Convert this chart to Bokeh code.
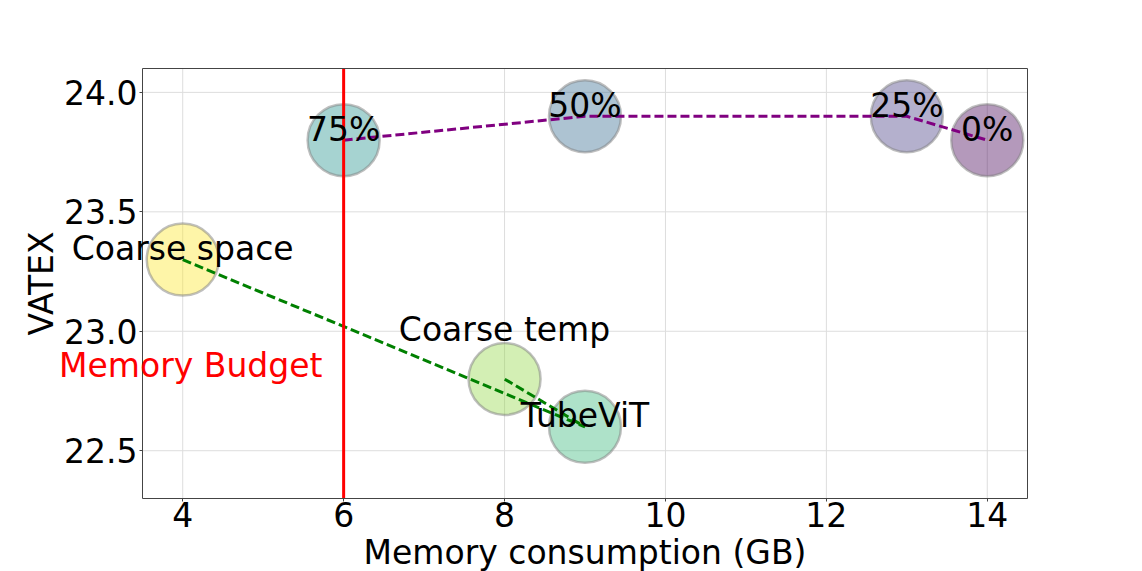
from bokeh.plotting import figure
from bokeh.models import Range1d, FixedTicker, ColumnDataSource, CustomJSTickFormatter
from bokeh.core.properties import value
from bokeh.embed import file_html
from bokeh.resources import INLINE

# Data
labels = ["0%", "25%", "50%", "75%", "TubeViT", "Coarse temp", "Coarse space"]
memory = [14, 13, 9, 6, 9, 8, 4]
vatex = [23.8, 23.9, 23.9, 23.8, 22.6, 22.8, 23.3]
colors = ["#440154", "#443983", "#31688e", "#21918c", "#35b779", "#90d743", "#fde725"]
label_y = [23.8, 23.9, 23.9, 23.8, 22.6, 22.96, 23.3]

drop_x = [6, 9, 13, 14]
drop_y = [23.8, 23.9, 23.9, 23.8]
coarse_x = [4, 9, 8]
coarse_y = [23.3, 22.6, 22.8]

budget_x = 6
budget_text = "Memory Budget"
budget_text_x = 4.1
budget_text_y = 22.81

x_ticks = [4, 6, 8, 10, 12, 14]
y_ticks = [22.5, 23.0, 23.5, 24.0]
x_lim = (3.5, 14.5)
y_lim = (22.3, 24.1)

FONT = "DejaVu Sans"

# Layout (pixels): plot box inside a full-canvas frame so texts are not clipped
W, H = 1142, 571
box_left, box_right, box_top, box_bottom = 142, 1027, 68, 498
sx = (box_right - box_left) / (x_lim[1] - x_lim[0])
sy = (box_bottom - box_top) / (y_lim[1] - y_lim[0])
xr = Range1d(x_lim[0] - box_left / sx, x_lim[1] + (W - box_right) / sx)
yr = Range1d(y_lim[0] - (H - box_bottom) / sy, y_lim[1] + box_top / sy)

p = figure(width=W, height=H, output_backend="svg", toolbar_location=None,
           x_range=xr, y_range=yr, title=None)
p.min_border = 0
p.min_border_left = 0
p.min_border_right = 0
p.min_border_top = 0
p.min_border_bottom = 0
p.outline_line_color = None
p.background_fill_color = "white"
p.border_fill_color = "white"
p.xgrid.visible = False
p.ygrid.visible = False

for ax in (p.xaxis, p.yaxis):
    ax.axis_line_color = None
    ax.major_tick_in = 0
    ax.major_tick_out = 3
    ax.minor_tick_line_color = None
    ax.major_tick_line_color = "#444444"
    ax.major_label_text_font = FONT
    ax.major_label_text_font_size = "33px"
    ax.major_label_text_color = "black"
    ax.axis_label_text_font = FONT
    ax.axis_label_text_font_size = "33px"
    ax.axis_label_text_font_style = "normal"
    ax.axis_label_text_color = "black"

p.xaxis.fixed_location = y_lim[0]
p.yaxis.fixed_location = x_lim[0]
p.xaxis.bounds = x_lim
p.yaxis.bounds = y_lim
p.xaxis.major_label_standoff = 0
p.yaxis.major_label_standoff = 2
p.xaxis.ticker = FixedTicker(ticks=x_ticks)
p.yaxis.ticker = FixedTicker(ticks=y_ticks)
p.yaxis.formatter = CustomJSTickFormatter(code="return tick.toFixed(1);")
p.xaxis.axis_label = "Memory consumption (GB)"
p.yaxis.axis_label = "VATEX"
p.xaxis.axis_label_standoff = 3
p.yaxis.axis_label_standoff = 0

# grid lines limited to the plot box
p.segment(x0=x_ticks, y0=[y_lim[0]] * len(x_ticks), x1=x_ticks, y1=[y_lim[1]] * len(x_ticks),
          line_color="#dddddd", line_width=1)
p.segment(x0=[x_lim[0]] * len(y_ticks), y0=y_ticks, x1=[x_lim[1]] * len(y_ticks), y1=y_ticks,
          line_color="#dddddd", line_width=1)

src = ColumnDataSource(dict(x=memory, y=vatex, c=colors, t=labels, ly=label_y))
p.scatter("x", "y", source=src, size=72, fill_color="c", fill_alpha=0.4,
          line_color="gray", line_alpha=0.5, line_width=2.5)

p.line(drop_x, drop_y, line_color="purple", line_width=3, line_dash="9 4")
p.line(coarse_x, coarse_y, line_color="green", line_width=3, line_dash="9 4")

# memory budget line
p.segment(x0=[budget_x], y0=[y_lim[0]], x1=[budget_x], y1=[y_lim[1]], line_color="red", line_width=3)

# plot box outline
p.quad(left=[x_lim[0]], right=[x_lim[1]], bottom=[y_lim[0]], top=[y_lim[1]],
       fill_color=None, line_color="#444444", line_width=1)

p.text("x", "ly", text="t", source=src, text_align="center", text_baseline="alphabetic",
       y_offset=-11, text_font=value(FONT), text_font_size="33px", text_color="black")

p.text([budget_text_x], [budget_text_y], text=[budget_text], text_align="center",
       text_baseline="alphabetic", y_offset=-11, text_font=value(FONT), text_font_size="33px",
       text_color="red")

open("out.html", "w").write(file_html(p, INLINE))
